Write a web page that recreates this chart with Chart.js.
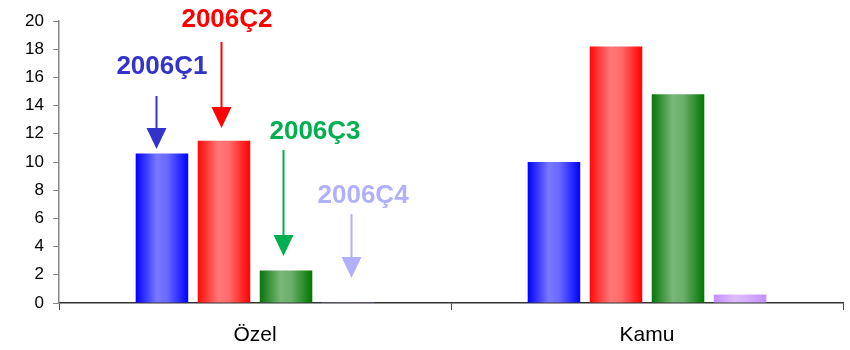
<!DOCTYPE html>
<html>
<head>
<meta charset="utf-8">
<script src="https://cdn.jsdelivr.net/npm/chart.js@4.4.1/dist/chart.umd.min.js"></script>
<style>
  html, body { margin: 0; padding: 0; background: #ffffff; }
  #wrap { width: 850px; height: 350px; }
</style>
</head>
<body>
<div id="wrap"><canvas id="c" width="850" height="350"></canvas></div>
<script>
// Sectors on the x axis
const categories = ['Özel', 'Kamu'];
// Quarter series
const seriesNames = ['2006Ç1', '2006Ç2', '2006Ç3', '2006Ç4'];
const q1 = [10.6, 10.0];
const q2 = [11.5, 18.2];
const q3 = [2.3, 14.8];
const q4 = [0.05, 0.6];
// Value axis
const yTicks = [0, 2, 4, 6, 8, 10, 12, 14, 16, 18, 20];

// Horizontal shading for each series: edge, highlight, highlight, edge
const shades = [
  ['#0000ff', '#7878ff', '#6a6aff', '#0000ff'],
  ['#ff0a0a', '#ff7878', '#ff6a6a', '#ff0000'],
  ['#0a740a', '#78b878', '#6aae6a', '#007700'],
  ['#c490ff', '#dcbcff', '#d6b2ff', '#c490ff']
];

// Callouts above the Özel bars: colour, text baseline (value),
// arrow start and tip (values), horizontal shifts from the bar centre
const callouts = [
  { series: 0, color: '#3333cc', base: 16.24, from: 14.68, to: 10.92, textDx: 0,  arrowDx: -6 },
  { series: 1, color: '#ff0000', base: 19.57, from: 18.51, to: 12.41, textDx: 3,  arrowDx: -3 },
  { series: 2, color: '#00b050', base: 11.63, from: 10.85, to: 3.33,  textDx: 29, arrowDx: -3 },
  { series: 3, color: '#b0b0ff', base: 7.09,  from: 6.31,  to: 1.77,  textDx: 15, arrowDx: 3 }
];

// Give every bar its own gradient spanning its own width
const shadePlugin = {
  id: 'barShade',
  beforeDatasetsDraw(chart) {
    const ctx = chart.ctx;
    chart.data.datasets.forEach((ds, di) => {
      const meta = chart.getDatasetMeta(di);
      meta.data.forEach(el => {
        const l = el.x - el.width / 2, r = el.x + el.width / 2;
        const g = ctx.createLinearGradient(l, 0, r, 0);
        const s = shades[di];
        g.addColorStop(0, s[0]);
        g.addColorStop(0.4, s[1]);
        g.addColorStop(0.6, s[2]);
        g.addColorStop(1, s[3]);
        const own = Object.create(el.options);
        own.backgroundColor = g;
        el.options = own;
      });
    });
  }
};

const calloutPlugin = {
  id: 'callouts',
  afterDatasetsDraw(chart) {
    const ctx = chart.ctx;
    const y = chart.scales.y;
    ctx.save();
    callouts.forEach(c => {
      const bar = chart.getDatasetMeta(c.series).data[0];
      const ax = Math.round(bar.x + c.arrowDx) + 0.5;
      const y0 = y.getPixelForValue(c.from);
      const yTip = y.getPixelForValue(c.to);
      const headH = 21, headW = 10;
      ctx.strokeStyle = c.color;
      ctx.fillStyle = c.color;
      ctx.lineWidth = 2;
      ctx.beginPath();
      ctx.moveTo(ax, y0);
      ctx.lineTo(ax, yTip - headH + 1);
      ctx.stroke();
      ctx.beginPath();
      ctx.moveTo(ax - headW, yTip - headH);
      ctx.lineTo(ax + headW, yTip - headH);
      ctx.lineTo(ax, yTip);
      ctx.closePath();
      ctx.fill();
      ctx.font = 'bold 26px "Liberation Sans", Arial, sans-serif';
      ctx.textAlign = 'center';
      ctx.textBaseline = 'alphabetic';
      ctx.fillText(seriesNames[c.series], bar.x + c.textDx, y.getPixelForValue(c.base));
    });
    ctx.restore();
  }
};

const data = {
  labels: categories,
  datasets: [q1, q2, q3, q4].map((vals, i) => ({
    label: seriesNames[i],
    data: vals,
    backgroundColor: shades[i][0],
    borderWidth: 0,
    categoryPercentage: 0.633,
    barPercentage: 0.847
  }))
};

new Chart(document.getElementById('c'), {
  type: 'bar',
  data,
  plugins: [shadePlugin, calloutPlugin],
  options: {
    responsive: false,
    devicePixelRatio: 1,
    animation: false,
    layout: { padding: { left: 0, right: 7, top: 21, bottom: 0 } },
    plugins: { legend: { display: false }, tooltip: { enabled: false } },
    scales: {
      x: {
        offset: true,
        grid: { offset: true, drawOnChartArea: false, tickLength: 7, color: '#444444' },
        border: { color: '#333333', width: 1.5 },
        ticks: {
          color: '#000000',
          padding: 13,
          font: { family: '"Liberation Sans", Arial, sans-serif', size: 21 }
        },
        afterFit(scale) { scale.height = 47; }
      },
      y: {
        min: 0,
        max: 20,
        afterBuildTicks(scale) { scale.ticks = yTicks.map(v => ({ value: v })); },
        grid: { drawOnChartArea: false, tickLength: 6, color: '#888888' },
        border: { color: '#888888', width: 1.5 },
        ticks: {
          color: '#000000',
          padding: 9,
          font: { family: '"Liberation Sans", Arial, sans-serif', size: 17 }
        },
        afterFit(scale) { scale.width = 59; }
      }
    }
  }
});
</script>
</body>
</html>
